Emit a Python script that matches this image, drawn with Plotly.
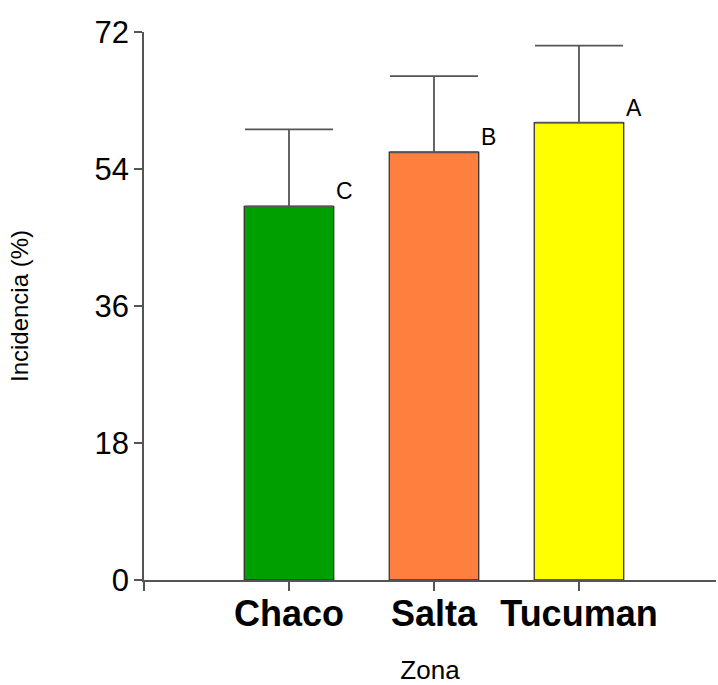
import plotly.graph_objects as go

categories = ["Chaco", "Salta", "Tucuman"]
values = [49.1, 56.2, 60.1]
errors = [10.1, 10.0, 10.1]
letters = ["C", "B", "A"]
colors = ["#009F00", "#FF7F3F", "#FFFF00"]
y_ticks = [0, 18, 36, 54, 72]

xpos = list(range(len(categories)))
bar_w = 0.617

fig = go.Figure()
fig.add_trace(go.Bar(
    x=xpos, y=values, width=bar_w,
    marker=dict(color=colors, line=dict(color="#333333", width=1.3)),
    error_y=dict(type="data", symmetric=False, array=errors,
                 arrayminus=[0] * len(errors),
                 color="#555555", thickness=1.8, width=44),
    showlegend=False,
))

for i, (v, l) in enumerate(zip(values, letters)):
    fig.add_annotation(x=i + bar_w / 2, y=v, text=l, xref="x", yref="y",
                       xanchor="left", yanchor="bottom", showarrow=False,
                       xshift=0, yshift=0,
                       font=dict(family="Liberation Sans, Arial", size=23, color="black"))

fig.update_layout(
    width=718, height=685,
    margin=dict(l=144, r=2, t=32, b=105),
    plot_bgcolor="white", paper_bgcolor="white",
    font=dict(family="Liberation Sans, Arial", color="black"),
    xaxis=dict(range=[-1.0, 2.945], tickvals=[-1] + xpos, ticktext=[""] + categories,
               showline=True, linecolor="#555555", linewidth=1.5,
               ticks="outside", ticklen=9, tickcolor="#555555", tickwidth=1.5,
               ticklabelstandoff=-8,
               tickfont=dict(size=36, family="Liberation Sans, Arial", weight="bold"),
               showgrid=False, zeroline=False,
               title=dict(text="Zona", font=dict(size=26), standoff=30)),
    yaxis=dict(range=[0, 72], tickvals=y_ticks,
               showline=True, linecolor="#555555", linewidth=1.5,
               ticks="outside", ticklen=8, tickcolor="#555555", tickwidth=1.5,
               ticklabelstandoff=-1,
               tickfont=dict(size=31), showgrid=False, zeroline=False,
               title=dict(text="Incidencia (%)", font=dict(size=24), standoff=59)),
)

fig.write_html("out.html")
